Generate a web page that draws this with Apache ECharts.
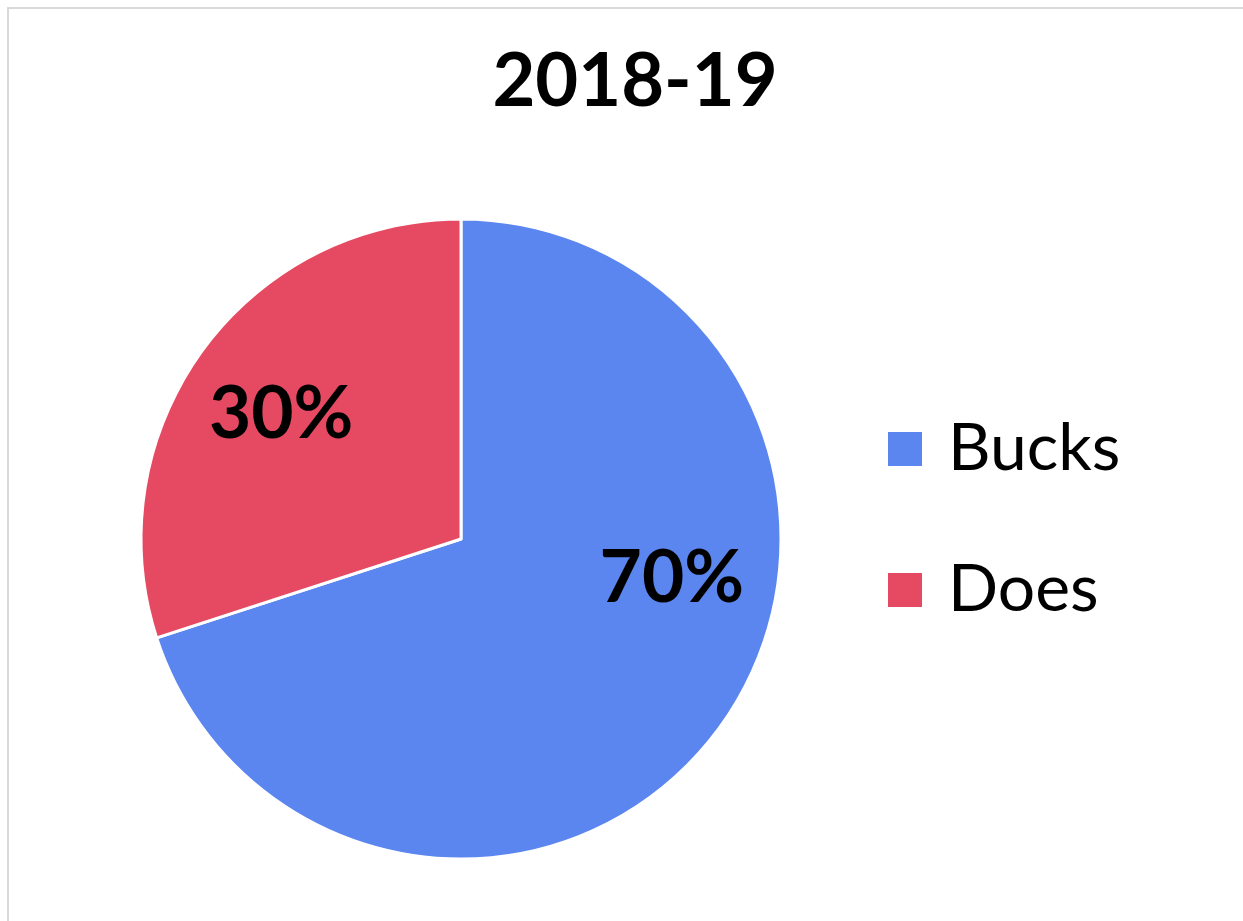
<!DOCTYPE html>
<html>
<head>
<meta charset="utf-8">
<script src="https://cdn.jsdelivr.net/npm/echarts@6/dist/echarts.min.js"></script>
<style>
html,body{margin:0;padding:0;background:#fff;}
#main{width:1243px;height:921px;}
</style>
</head>
<body>
<div id="main"></div>
<script>
var titleText = '2018-19';
var categories = ['Bucks', 'Does'];
var shares = [70, 30];
var colors = ['#5B86F0', '#E64A62'];

// label nudges from the default inside spot
var labelShift = [[79, -56], [-48, -29]];

var pieData = [];
for (var i = 0; i < categories.length; i++) {
	pieData.push({name: categories[i], value: shares[i], itemStyle: {color: colors[i]}});
}

var myChart = echarts.init(document.getElementById('main'));
var option = {
	backgroundColor: '#fff',
	animation: false,
	title: {
		text: titleText,
		left: 630,
		textAlign: 'center',
		top: 40,
		textStyle: {fontFamily: 'Lato', fontWeight: 'bold', fontSize: 74, color: '#000'}
	},
	legend: {
		orient: 'vertical',
		left: 886,
		top: 414,
		padding: 0,
		itemWidth: 36,
		itemHeight: 36,
		itemGap: 71,
		icon: 'rect',
		data: categories,
		textStyle: {fontFamily: 'Lato', fontSize: 66, color: '#000', lineHeight: 70, padding: [0, 0, 0, 20]}
	},
	graphic: [{
		type: 'rect',
		shape: {x: 8, y: 8, width: 1400, height: 1100},
		style: {fill: 'none', stroke: '#d9d9d9', lineWidth: 2},
		silent: true
	}],
	series: [{
		type: 'pie',
		center: [461, 539],
		radius: 320,
		startAngle: 90,
		clockwise: true,
		data: pieData,
		itemStyle: {borderColor: '#fff', borderWidth: 3},
		label: {
			show: true,
			position: 'inside',
			formatter: '{d}%',
			fontFamily: 'Lato',
			fontWeight: 'bold',
			fontSize: 73,
			color: '#000'
		},
		labelLayout: function (params) {
			var s = labelShift[params.dataIndex];
			return {dx: s[0], dy: s[1]};
		},
		emphasis: {disabled: true}
	}]
};
myChart.setOption(option);
</script>
</body>
</html>
